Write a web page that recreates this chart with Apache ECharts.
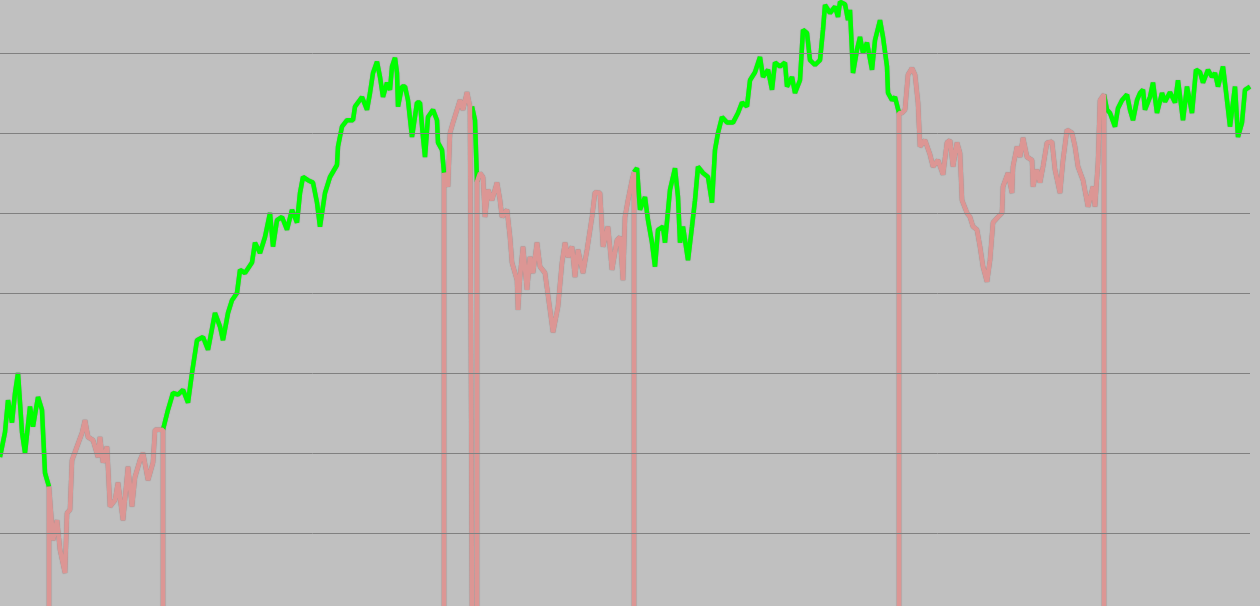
<!DOCTYPE html>
<html>
<head>
<meta charset="utf-8">
<script src="https://cdn.jsdelivr.net/npm/echarts@6/dist/echarts.min.js"></script>
<style>
html,body{margin:0;padding:0;background:#c0c0c0;}
#chart{width:1260px;height:606px;}
</style>
</head>
<body>
<div id="chart"></div>
<script>
// Trading-day positions of the samples
const days = [0,5,8,12,15,18,22,25,30,33,38,42,45,49,53,57,60,65,67,70,72,77,82,85,88,93,98,100,103,107,110,115,118,123,128,132,135,140,143,148,153,155,160,163,168,173,178,183,188,192,197,203,208,215,220,223,228,232,237,240,245,252,255,260,265,270,273,277,282,287,292,297,300,303,308,313,317,320,325,330,337,338,342,347,353,355,362,367,370,373,377,380,383,387,390,392,395,397,398,402,405,408,412,417,420,423,425,428,433,437,438,442,444,448,450,453,457,460,463,467,470,472,475,477,480,483,485,488,492,497,500,502,507,510,512,517,518,520,523,527,530,533,537,540,545,550,553,558,562,565,568,572,575,578,583,587,592,595,600,603,608,612,617,620,623,625,628,632,634,637,640,645,648,652,655,658,663,665,670,675,678,680,683,688,692,695,698,703,708,712,715,718,722,727,733,738,742,747,750,755,760,763,768,772,775,780,785,787,792,795,800,803,807,810,815,820,823,825,830,835,838,840,845,848,850,853,857,860,863,867,872,875,880,883,887,888,892,895,899,902,905,908,912,915,918,920,925,930,933,938,943,947,950,953,957,960,962,967,970,973,977,980,983,987,990,993,998,1002,1003,1008,1012,1013,1017,1020,1023,1027,1032,1033,1037,1040,1043,1047,1052,1055,1060,1063,1067,1072,1075,1078,1083,1088,1093,1095,1098,1100,1104,1107,1110,1115,1118,1122,1127,1130,1133,1137,1140,1143,1145,1150,1153,1157,1162,1165,1170,1175,1178,1183,1187,1192,1196,1200,1203,1208,1212,1215,1218,1223,1227,1230,1235,1238,1242,1245,1250];
// Price at each sample
const prices = [19.5,22.6,26.6,23.8,27.5,30.0,22.6,20.0,25.8,23.3,27.0,25.4,17.5,15.8,9.1,11.6,7.9,5.0,12.5,12.9,19.1,20.8,22.5,24.1,22.0,21.6,19.5,22.0,18.8,20.8,13.3,14.1,16.3,11.6,18.3,13.3,17.0,19.1,20.0,16.6,18.8,22.9,22.9,22.9,25.4,27.5,27.3,27.9,26.3,30.0,34.1,34.5,32.9,37.5,35.8,34.1,37.5,39.1,40.0,42.9,42.5,43.8,46.3,45.0,47.0,50.0,45.8,49.1,49.5,47.9,50.4,48.8,52.5,54.5,54.1,53.8,51.3,48.3,52.5,54.5,56.0,58.3,60.8,61.6,61.6,63.3,64.5,62.9,65.0,67.5,68.9,67.0,64.5,66.3,65.4,68.3,69.4,67.5,63.3,65.8,65.8,64.1,59.5,63.8,63.8,59.5,57.0,62.0,62.9,61.6,58.8,57.9,55.0,53.3,60.0,61.3,62.9,64.1,62.9,65.1,63.3,63.3,61.6,53.9,55.0,54.5,49.5,52.9,51.6,53.8,51.6,49.5,50.4,47.0,43.8,41.6,37.9,42.0,45.8,40.4,44.5,42.5,46.3,43.3,42.5,37.9,35.1,38.3,43.8,46.3,44.5,45.8,42.0,45.4,42.5,45.4,49.5,52.6,52.5,45.8,48.3,42.9,46.6,47.0,41.6,49.5,51.6,54.1,55.1,55.6,50.4,52.0,49.1,46.3,43.3,47.9,48.3,46.3,52.9,55.6,52.0,46.3,48.3,44.1,48.3,51.6,55.8,55.0,54.5,51.3,57.9,60.0,62.0,61.3,61.3,62.5,63.8,63.3,66.6,67.6,69.5,67.0,67.9,65.4,68.8,68.3,68.8,65.8,67.0,65.0,66.6,72.9,72.5,69.1,68.5,69.1,72.9,76.0,75.0,75.8,74.5,76.4,76.1,74.1,75.4,67.5,70.4,72.0,70.0,71.3,67.9,71.6,74.1,72.0,68.3,65.0,64.1,64.5,62.5,62.5,62.9,67.3,68.1,67.3,63.8,58.3,59.1,57.3,55.8,56.6,54.8,58.8,59.1,55.8,58.8,57.5,51.6,50.0,49.5,48.3,47.9,45.8,43.3,41.4,44.1,48.8,49.5,50.0,53.3,55.0,52.5,55.8,58.3,57.0,59.4,57.0,56.6,53.3,55.4,53.8,55.8,58.8,58.9,55.4,52.5,56.6,60.4,60.0,58.3,55.8,54.1,50.8,53.3,50.8,56.3,64.1,64.8,62.9,62.5,60.8,63.1,64.1,64.8,62.9,61.6,64.1,65.0,65.4,62.9,64.5,66.3,62.5,65.0,63.9,65.1,63.8,66.6,61.6,65.8,62.5,67.9,67.6,66.3,67.9,67.0,67.5,65.8,68.3,64.1,60.8,65.8,59.5,61.3,65.4,65.8];
// Days where the trend flips (first segment is an up-trend)
const boundaries = [49,163,444,472,477,634,899,1104];
const trendColors = ['#00ff00', '#dc9694'];
// Horizontal reference levels and the visible value window
const gridLevels = [10,20,30,40,50,60,70];
const yRange = [0.875, 76.625];

// kind 0 = up-trend (broken with gaps), kind 1 = down-trend (drops to 0 outside its spans)
function buildTrend(kind, dropToZero) {
  const edges = [days[0]].concat(boundaries, [days[days.length - 1]]);
  const out = [];
  for (let k = 0; k < edges.length - 1; k++) {
    if (k % 2 !== kind) continue;
    const s = edges[k], e = edges[k + 1];
    if (k > 0) out.push(dropToZero ? [s, 0] : [s, null]);
    for (let i = 0; i < days.length; i++) {
      if (days[i] >= s && days[i] <= e) out.push([days[i], prices[i]]);
    }
    if (k < edges.length - 2) out.push(dropToZero ? [e, 0] : [e, null]);
  }
  return out;
}

const chart = echarts.init(document.getElementById('chart'), null, {renderer: 'canvas'});
const lineBase = {width: 4.5, shadowColor: 'rgba(0,0,0,0.3)', shadowBlur: 1};
chart.setOption({
  animation: false,
  backgroundColor: '#c0c0c0',
  grid: {left: 0, right: 10, top: 0, bottom: 0, outerBoundsMode: 'none'},
  xAxis: {
    type: 'value', min: days[0], max: days[days.length - 1],
    axisLine: {show: false}, axisTick: {show: false},
    axisLabel: {show: false}, splitLine: {show: false}
  },
  yAxis: {
    type: 'value', min: yRange[0], max: yRange[1],
    axisLine: {show: false}, axisTick: {show: false}, axisLabel: {show: false},
    splitLine: {show: false}
  },
  series: [
    {
      type: 'line', name: 'up', data: buildTrend(0, false), showSymbol: false, symbol: 'none',
      clip: true, connectNulls: false,
      lineStyle: Object.assign({color: trendColors[0]}, lineBase),
      itemStyle: {color: trendColors[0]},
      z: 3,
      markLine: {
        silent: true, symbol: 'none', animation: false,
        label: {show: false},
        lineStyle: {color: '#808080', width: 1, type: 'solid'},
        emphasis: {disabled: true},
        data: gridLevels.map(v => ({yAxis: v}))
      }
    },
    {
      type: 'line', name: 'down', data: buildTrend(1, true), showSymbol: false, symbol: 'none',
      clip: true,
      lineStyle: Object.assign({color: trendColors[1]}, lineBase),
      itemStyle: {color: trendColors[1]},
      z: 4
    }
  ]
});
</script>
</body>
</html>
